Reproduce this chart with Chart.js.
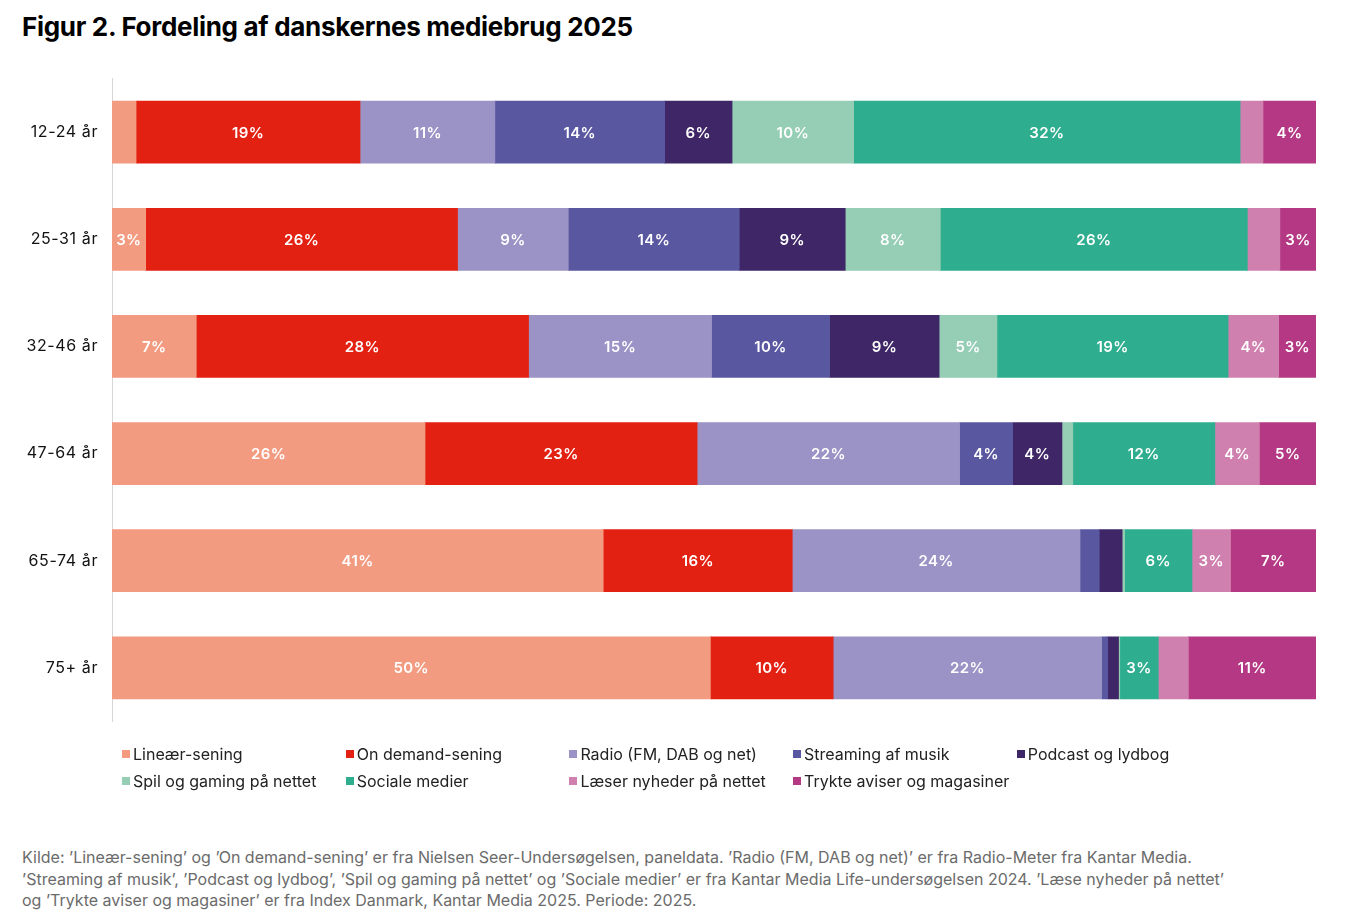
<!DOCTYPE html>
<html lang="da">
<head>
<meta charset="utf-8">
<script src="https://cdn.jsdelivr.net/npm/chart.js@4.4.1/dist/chart.umd.min.js"></script>
<style>
  body { margin: 0; background: #fff; width: 1354px; height: 922px; position: relative; overflow: hidden; font-family: Inter, "Liberation Sans", Arial, sans-serif; }
  h1 { position: absolute; left: 22px; top: 11px; margin: 0; font-size: 26px; font-weight: 700; color: #000; letter-spacing: -0.3px; }
  #wrap { position: absolute; left: 0; top: 55px; width: 1354px; height: 690px; }
  #legend { position: absolute; left: 122px; top: 743px; display: grid; grid-template-columns: repeat(5, 223.7px); row-gap: 5px; font-size: 16px; color: #222; }
  #legend div { display: flex; align-items: center; height: 22px; white-space: nowrap; }
  #legend span.box { width: 8px; height: 8px; margin-right: 3px; display: inline-block; }
  #source { position: absolute; left: 22px; top: 847px; font-size: 16px; line-height: 21.5px; color: #6b6b6b; width: 1320px; white-space: nowrap; }
</style>
</head>
<body>
<h1>Figur 2. Fordeling af danskernes mediebrug 2025</h1>
<div id="wrap"><canvas id="media-chart"></canvas></div>
<div id="legend"></div>
<div id="source">Kilde: ’Lineær-sening’ og ’On demand-sening’ er fra Nielsen Seer-Undersøgelsen, paneldata. ’Radio (FM, DAB og net)’ er fra Radio-Meter fra Kantar Media.<br>’Streaming af musik’, ’Podcast og lydbog’, ’Spil og gaming på nettet’ og ’Sociale medier’ er fra Kantar Media Life-undersøgelsen 2024. ’Læse nyheder på nettet’<br>og ’Trykte aviser og magasiner’ er fra Index Danmark, Kantar Media 2025. Periode: 2025.</div>
<script>
var ageGroups = ['12-24 år', '25-31 år', '32-46 år', '47-64 år', '65-74 år', '75+ år'];

// andel i procent pr. aldersgruppe (aflæst)
var linear    = [2.0, 2.8, 7.0, 26.0, 40.8, 49.7];
var onDemand  = [18.6, 25.9, 27.6, 22.6, 15.7, 10.2];
var radio     = [11.2, 9.2, 15.2, 21.8, 23.9, 22.3];
var streaming = [14.1, 14.2, 9.8, 4.4, 1.6, 0.5];
var podcast   = [5.6, 8.8, 9.1, 4.1, 1.9, 0.9];
var gaming    = [10.1, 7.9, 4.8, 0.9, 0.2, 0.1];
var social    = [32.1, 25.5, 19.2, 11.8, 5.6, 3.2];
var newsNet   = [1.9, 2.7, 4.2, 3.7, 3.2, 2.5];
var printed   = [4.4, 3.0, 3.1, 4.7, 7.1, 10.6];

var seriesNames = ['Lineær-sening', 'On demand-sening', 'Radio (FM, DAB og net)', 'Streaming af musik', 'Podcast og lydbog',
                   'Spil og gaming på nettet', 'Sociale medier', 'Læser nyheder på nettet', 'Trykte aviser og magasiner'];
var seriesData = [linear, onDemand, radio, streaming, podcast, gaming, social, newsNet, printed];
var seriesColors = ['#F29B80', '#E32112', '#9B92C5', '#5A57A1', '#3F2666', '#95CDB5', '#2FAE8F', '#D080AE', '#B43883'];

var datasets = seriesNames.map(function (name, i) {
  return { label: name, data: seriesData[i], backgroundColor: seriesColors[i], borderWidth: 0, barThickness: 62 };
});

// lidt luft mellem bogstaverne, som i originalen
var spacing = {
  id: 'spacing',
  beforeDraw: function (chart) { chart.ctx.letterSpacing = '0.6px'; }
};

// procent-tal midt i hver bar
var barLabels = {
  id: 'barLabels',
  afterDatasetsDraw: function (chart) {
    var ctx = chart.ctx;
    ctx.save();
    ctx.letterSpacing = '0.4px';
    ctx.fillStyle = '#fff';
    ctx.font = '600 15px Inter, sans-serif';
    ctx.textAlign = 'center';
    ctx.textBaseline = 'middle';
    chart.data.datasets.forEach(function (ds, i) {
      chart.getDatasetMeta(i).data.forEach(function (bar, j) {
        var v = ds.data[j];
        if (v < 2.75) return;
        ctx.fillText(Math.round(v) + '%', (bar.x + bar.base) / 2, bar.y + 1);
      });
    });
    ctx.restore();
  }
};

window.addEventListener('load', function () {
  var ctx = document.getElementById('media-chart').getContext('2d');
  var chart = new Chart(ctx, {
    type: 'bar',
    data: { labels: ageGroups, datasets: datasets },
    options: {
      indexAxis: 'y',
      responsive: true,
      maintainAspectRatio: false,
      animation: false,
      layout: { padding: { top: 17, right: 38, bottom: 18, left: 0 } },
      plugins: { legend: { display: false }, tooltip: { enabled: false } },
      scales: {
        x: { stacked: true, min: 0, max: 100, display: false },
        y: {
          stacked: true,
          grid: { display: false, drawTicks: false },
          border: { display: true, color: '#d6d6d6', width: 1 },
          ticks: { color: '#111', padding: 14, font: { family: 'Inter', size: 16 } },
          afterFit: function (scale) { scale.width = 112; }
        }
      }
    },
    plugins: [spacing, barLabels]
  });

  var legend = document.getElementById('legend');
  chart.data.datasets.forEach(function (ds) {
    var item = document.createElement('div');
    item.innerHTML = '<span class="box" style="background:' + ds.backgroundColor + '"></span>' + ds.label;
    legend.appendChild(item);
  });
});
</script>
</body>
</html>
